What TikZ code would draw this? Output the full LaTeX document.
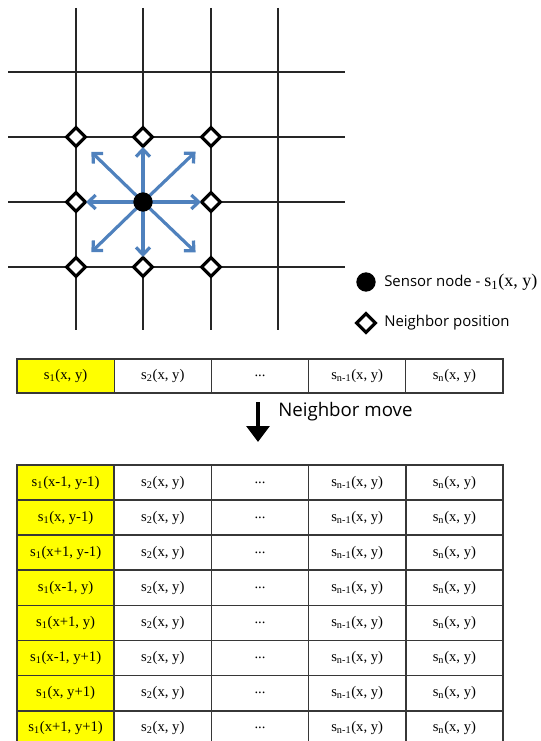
\documentclass[tikz,border=0pt]{standalone}
\usepackage{fontspec}
\setmainfont{Liberation Serif}
\newfontfamily\uisans{Open Sans}
\usetikzlibrary{arrows.meta}
\definecolor{movblue}{RGB}{79,129,189}
\definecolor{cellyellow}{RGB}{255,255,0}
\definecolor{rulegray}{RGB}{55,55,55}
\newcommand{\sv}[2]{s\textsubscript{#1}(#2)}
\newcommand{\tabtext}{\fontsize{11}{13}\selectfont}
\pgfdeclarelayer{front}
\pgfsetlayers{main,front}

\begin{document}
\begin{tikzpicture}[x=0.75pt,y=-0.75pt,
  gridline/.style={line width=0.9pt, black!85},
  nbr/.style={rectangle, rotate=45, draw=black, fill=white, line width=2.4pt,
    minimum size=10pt, inner sep=0pt},
  sensor/.style={circle, fill=black, minimum size=14.5pt, inner sep=0pt},
  move/.style={movblue, line width=2.4pt,
    -{Straight Barb[length=5.5pt,width=10.5pt,line width=2.4pt]}},
  cell/.style={rectangle, draw=rulegray, line width=0.8pt, inner sep=0pt,
    minimum width=72.9pt, minimum height=25.5pt, font=\tabtext},
  bcell/.style={cell, line width=1.3pt, minimum height=26.3pt},
  legend/.style={anchor=west, inner sep=0pt, font=\uisans\fontsize{11.2}{13}\selectfont}
]
\useasboundingbox (0,0) rectangle (541,741);

% lattice
\foreach \gx in {76,143,211,278} \draw[gridline] (\gx,8) -- (\gx,330);
\foreach \gy in {72,137,202,267} \draw[gridline] (8,\gy) -- (345,\gy);

% sensor node (kept in front of the arrows) and its eight neighbour positions
\begin{pgfonlayer}{front}
\node[sensor] (c) at (143,202) {};
\end{pgfonlayer}
\node[nbr] (nw) at (76,137) {};
\node[nbr] (n)  at (143,137) {};
\node[nbr] (ne) at (211,137) {};
\node[nbr] (w)  at (76,202) {};
\node[nbr] (e)  at (211,202) {};
\node[nbr] (sw) at (76,267) {};
\node[nbr] (s)  at (143,267) {};
\node[nbr] (se) at (211,267) {};

\foreach \t in {n,s,e,w}
  \draw[move, shorten >=7.5pt] (c.center) -- (\t.center);
\foreach \t in {nw,ne,sw,se}
  \draw[move, shorten >=16pt] (c.center) -- (\t.center);

% legend
\node[sensor] (lgs) at (366,282) {};
\node[legend] (lgst) at (384,282) {Sensor node - {\rmfamily\fontsize{13.5}{15}\selectfont\sv{1}{x, y}}};
\node[nbr] (lgn) at (366,323) {};
\node[legend] (lgnt) at (384,323) {Neighbor position};

% vector before the move
\node[cell, fill=cellyellow] (a1) at (65.6,376) {\sv{1}{x, y}};
\node[cell] (a2) at (162.8,376) {\sv{2}{x, y}};
\node[cell] (a3) at (260,376) {...};
\node[cell] (a4) at (357.2,376) {\sv{n-1}{x, y}};
\node[cell] (a5) at (454.4,376) {\sv{n}{x, y}};

% move arrow
\coordinate (mvtop) at (258,402);
\coordinate (mvbot) at (258,442);
\draw[black, line width=3.6pt, -{Triangle[length=12pt,width=17pt]}] (mvtop) -- (mvbot);
\node[legend, font=\uisans\fontsize{14}{16}\selectfont] (mvlabel) at (278,412) {Neighbor move};

% vectors after the move
\foreach \i/\lab in {0/{x-1, y-1},1/{x, y-1},2/{x+1, y-1},3/{x-1, y},4/{x+1, y},5/{x-1, y+1},6/{x, y+1},7/{x+1, y+1}}{
  \pgfmathsetmacro{\ry}{482.55+35.1*\i}
  \node[bcell, fill=cellyellow] (b\i1) at (65.6,\ry) {\sv{1}{\lab}};
  \node[bcell] (b\i2) at (162.8,\ry) {\sv{2}{x, y}};
  \node[bcell] (b\i3) at (260,\ry) {...};
  \node[bcell] (b\i4) at (357.2,\ry) {\sv{n-1}{x, y}};
  \node[bcell] (b\i5) at (454.4,\ry) {\sv{n}{x, y}};
}
\end{tikzpicture}
\end{document}
